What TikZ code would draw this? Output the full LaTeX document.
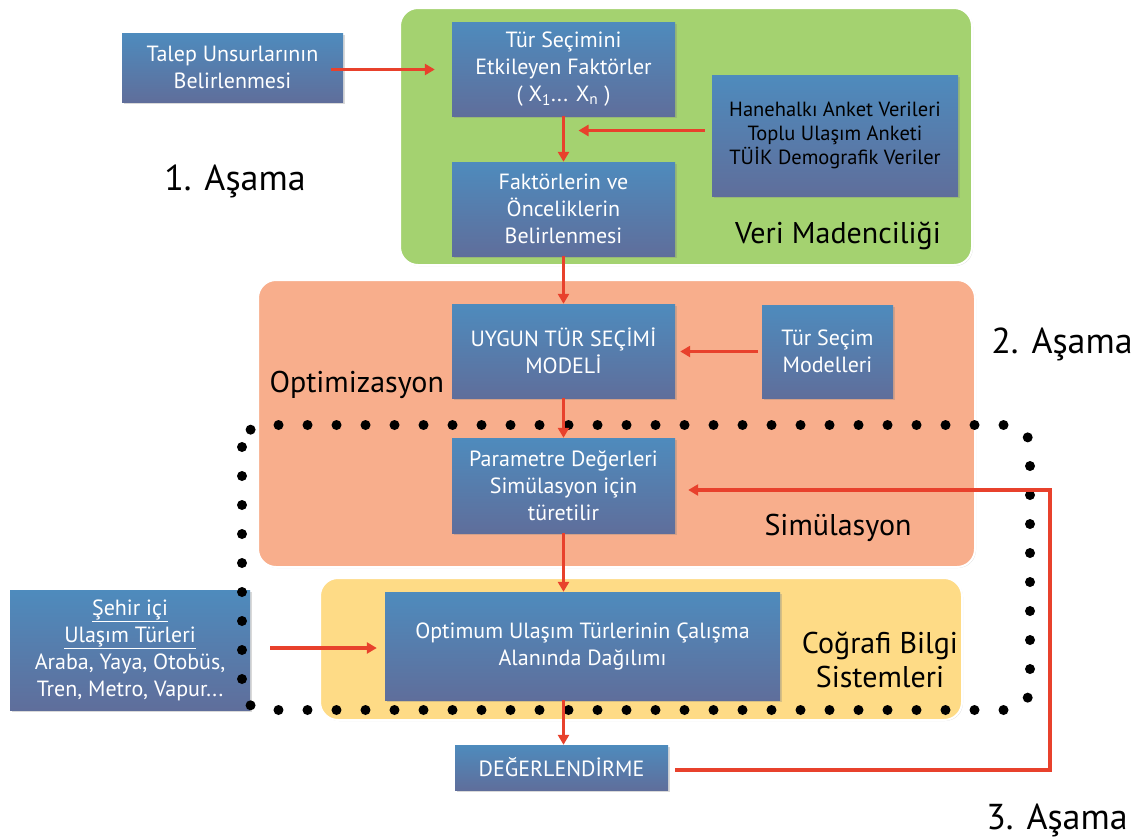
\documentclass[tikz,border=0pt]{standalone}
\usepackage{fontspec}
\setmainfont{PT Sans}
\usetikzlibrary{arrows.meta,shadows,calc}

\definecolor{panelgreen}{RGB}{164,210,112}
\definecolor{panelorange}{RGB}{248,174,140}
\definecolor{panelyellow}{RGB}{254,219,134}
\definecolor{boxtop}{RGB}{78,139,189}
\definecolor{boxbottom}{RGB}{95,110,155}
\definecolor{flowred}{RGB}{232,65,44}

\tikzset{
  panel/.style={rounded corners=18pt, draw=white, line width=2pt,
    drop shadow={opacity=0.25, shadow xshift=1pt, shadow yshift=-1pt}},
  bluebox/.style={rectangle, top color=boxtop, bottom color=boxbottom,
    text=white, align=center, inner sep=2pt,
    font=\fontsize{22}{27}\selectfont,
    drop shadow={opacity=0.3, shadow xshift=1.5pt, shadow yshift=-1.5pt}},
  flow/.style={draw=flowred, line width=3.5pt,
    -{Triangle[length=10pt,width=11pt]}},
  panellabel/.style={font=\fontsize{30}{34}\selectfont, align=center},
  stagelabel/.style={font=\fontsize{36}{40}\selectfont},
  dotline/.style={line width=10pt, line cap=round, dash pattern=on 0pt off 29pt}
}

\begin{document}
\begin{tikzpicture}[x=1pt,y=-1pt]
\useasboundingbox (0,0) rectangle (1147,839);

% background panels
\fill[panelgreen, panel] (400,8) rectangle (972,265);
\fill[panelorange, panel] (258,280) rectangle (975,567);
\fill[panelyellow, panel] (320,578) rectangle (962,720);

% boxes
\node[bluebox, minimum width=221pt, minimum height=69pt] (talep) at (232.5,67.5)
  {Talep Unsurlarının\\Belirlenmesi};
\node[bluebox, minimum width=223pt, minimum height=94pt] (tur) at (563.5,69)
  {Tür Seçimini\\Etkileyen Faktörler\\( X\textsubscript{1}... X\textsubscript{n} )};
\node[bluebox, minimum width=246pt, minimum height=121pt, text=black,
  font=\fontsize{20.5}{24}\selectfont] (hane) at (835,135.5)
  {Hanehalkı Anket Verileri\\Toplu Ulaşım Anketi\\TÜİK Demografik Veriler};
\node[bluebox, minimum width=223pt, minimum height=94pt] (fak) at (563.5,209)
  {Faktörlerin ve\\Önceliklerin\\Belirlenmesi};
\node[bluebox, minimum width=223pt, minimum height=94pt] (uygun) at (563.5,351)
  {UYGUN TÜR SEÇİMİ\\MODELİ};
\node[bluebox, minimum width=131pt, minimum height=93pt] (modeller) at (827.5,351.5)
  {Tür Seçim\\Modelleri};
\node[bluebox, minimum width=223pt, minimum height=95pt] (param) at (563.5,485.5)
  {Parametre Değerleri\\Simülasyon için\\türetilir};
\node[bluebox, minimum width=395pt, minimum height=108pt] (optimum) at (582.5,646)
  {Optimum Ulaşım Türlerinin Çalışma\\Alanında Dağılımı};
\node[bluebox, minimum width=240pt, minimum height=120pt] (sehir) at (130,650)
  {\underline{Şehir içi}\\\underline{Ulaşım Türleri}\\Araba, Yaya, Otobüs,\\Tren, Metro, Vapur...};
\node[bluebox, minimum width=213pt, minimum height=45pt] (deger) at (561.5,767.5)
  {DEĞERLENDİRME};

% simulation boundary
\draw[dotline, rounded corners=22pt] (242,425) rectangle (1030,710);

% panel and stage labels
\node[panellabel] (lveri) at (838,236) {Veri Madenciliği};
\node[panellabel, anchor=west] (lopt) at (266,385) {Optimizasyon};
\node[panellabel] (lsim) at (838,528) {Simülasyon};
\node[panellabel] (lcbs) at (880,660) {Coğrafi Bilgi\\Sistemleri};
\node[stagelabel] (s1) at (235,181) {1. Aşama};
\node[stagelabel] (s2) at (1062,344) {2. Aşama};
\node[stagelabel] (s3) at (1057,820) {3. Aşama};

% connectors
\draw[flow] ($(talep.east)+(-12,2)$) -- ($(talep.east -| tur.west)+(-17,2)$);
\draw[flow] (tur.south) -- (fak.north);
\coordinate (join) at ($(tur.south |- hane.west)+(15,-5)$);
\draw[flow] ($(hane.west)+(-7,-5)$) -- (join);
\draw[flow] (fak.south) -- (uygun.north);
\draw[flow] ($(modeller.west)+(-4,0)$) -- ($(modeller.west -| uygun.east)+(5,0)$);
\draw[flow] (uygun.south) -- (param.north);
\draw[flow] (param.south) -- (param.south |- optimum.north);
\draw[flow] ($(sehir.east)+(20,-2)$) -- ($(sehir.east -| optimum.west)+(-8,-2)$);
\draw[flow] (param.south |- optimum.south) -- (param.south |- deger.north);
\coordinate (loopbottom) at (1050,770);
\coordinate (looptop) at (1050,490);
\coordinate (looptip) at ($(param.east |- looptop)+(13,0)$);
\draw[flow] ($(deger.east |- loopbottom)+(7,0)$) -- (loopbottom) -- (looptop)
  -- (looptip);
\end{tikzpicture}
\end{document}
